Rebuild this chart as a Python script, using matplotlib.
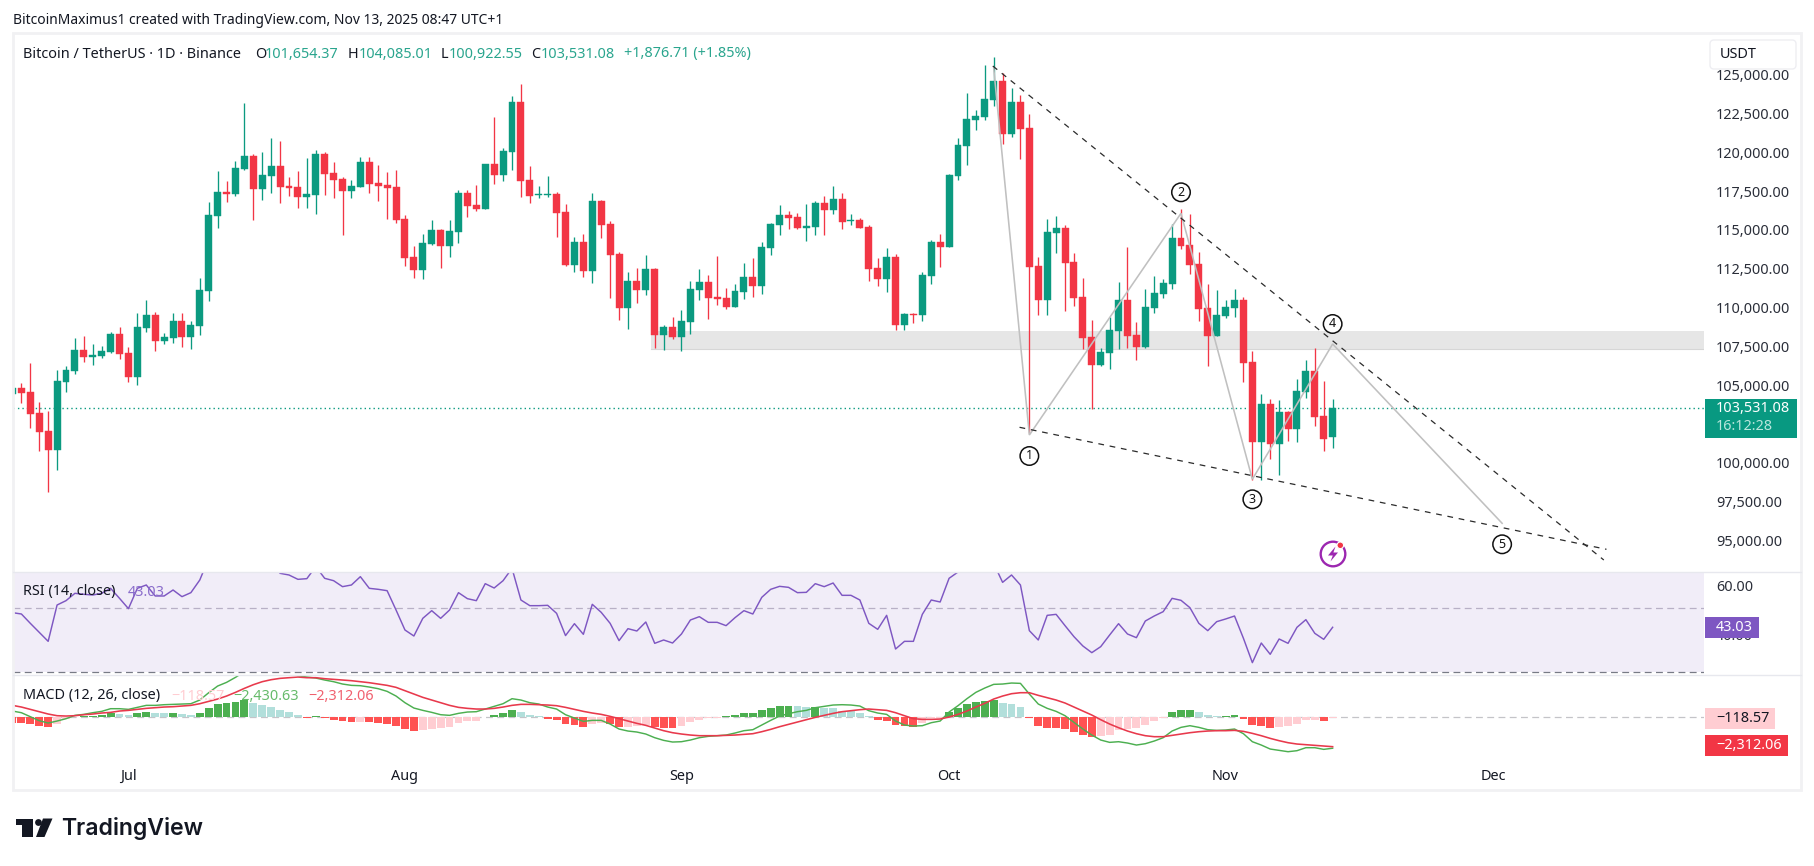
import numpy as np
import matplotlib
matplotlib.use("Agg")
import matplotlib.pyplot as plt
from matplotlib.patches import Rectangle, Circle, Polygon, FancyBboxPatch
from matplotlib.ticker import FuncFormatter

# Daily BTC/USDT candles, first entry is 18 Jun 2025, last is 13 Nov 2025
opens = [104427, 104792, 104534, 103181, 102021, 100840, 105222, 105930, 107262, 106832,
         106854, 107133, 108293, 107069, 105544, 108701, 109517, 107842, 108035, 109130,
         108099, 108830, 111085, 115917, 117442, 117335, 118924, 119762, 117657, 118495,
         119117, 117829, 117764, 117141, 117270, 119891, 118666, 118280, 117528, 117786,
         119375, 118022, 117893, 117764, 115703, 113254, 112438, 114092, 114994, 113984,
         114886, 117378, 116605, 116368, 119246, 118559, 120041, 123241, 118215, 117227,
         117227, 117313, 116153, 112760, 114221, 112374, 116862, 115380, 113447, 109990,
         111708, 111149, 112481, 108250, 108744, 108121, 109088, 111149, 111643, 110677,
         110612, 110054, 111020, 111965, 111407, 113855, 115337, 115960, 115831, 115144,
         115208, 116733, 116304, 116991, 115574, 115638, 115187, 112545, 111858, 113254,
         108894, 109603, 109539, 112051, 114221, 113920, 118495, 120428, 122082, 122275,
         123370, 124594, 121179, 123241, 121566, 112674, 110484, 114800, 115123, 112932,
         110677, 108100, 106296, 107069, 108486, 110484, 108228, 107455, 109968, 110870,
         111514, 114478, 114027, 112803, 109968, 108164, 109453, 109968, 110484, 106489,
         101334, 103783, 101205, 103267, 102172, 104556, 105909, 103010, 101654.37]
closes = [104792, 104491, 103160, 102000, 100840, 105264, 105973, 107262, 106832, 106940,
          107197, 108293, 107026, 105544, 108744, 109517, 107863, 108099, 109130, 108099,
          108873, 111128, 115960, 117442, 117335, 118989, 119762, 117657, 118538, 119117,
          117786, 117721, 117141, 117313, 119891, 118623, 118237, 117528, 117829, 119375,
          117979, 117850, 117721, 115660, 113211, 112438, 114156, 114994, 113984, 114929,
          117378, 116562, 116368, 119246, 118559, 120084, 123241, 118172, 117206, 117292,
          117292, 116111, 112739, 114221, 112374, 116862, 115337, 113404, 109990, 111708,
          111149, 112481, 108250, 108744, 108121, 109131, 111192, 111643, 110634, 110569,
          110054, 111063, 111965, 111407, 113898, 115380, 115960, 115788, 115144, 115251,
          116733, 116304, 116991, 115531, 115638, 115144, 112502, 111858, 113254, 108894,
          109582, 109539, 112094, 114221, 113920, 118537, 120471, 122146, 122339, 123435,
          124594, 121179, 123241, 121502, 112610, 110484, 114865, 115123, 112867, 110612,
          108035, 106296, 107133, 108551, 110484, 108164, 107455, 110033, 110935, 111579,
          114478, 113963, 112739, 109904, 108164, 109517, 110033, 110484, 106424, 101334,
          103783, 101205, 103267, 102172, 104620, 105909, 102945, 101528, 103531.08]
highs = [104800, 105114, 106403, 103890, 103332, 105973, 106209, 108014, 108164, 107627,
         107520, 108422, 108744, 107455, 109646, 110483, 109689, 108336, 109646, 109646,
         109109, 111901, 116776, 118795, 118151, 119440, 123155, 119869, 120019, 120921,
         120728, 118409, 118795, 119633, 120148, 120019, 119375, 118409, 118215, 119697,
         119697, 119182, 118731, 118860, 115939, 113963, 114736, 115638, 115058, 115638,
         117571, 117571, 117893, 119246, 122274, 120256, 123627, 124401, 119117, 117829,
         118473, 117442, 116669, 114543, 114736, 117378, 116927, 115574, 113576, 112288,
         112545, 113383, 112545, 108873, 109388, 109839, 111708, 112481, 112094, 113319,
         111257, 111514, 112868, 113190, 114221, 115445, 116605, 116218, 116089, 116669,
         116862, 117184, 117829, 117378, 116025, 115767, 115316, 113190, 113834, 113447,
         109646, 109646, 112288, 114349, 114736, 118602, 120922, 123821, 122726, 125625,
         126141, 125088, 124143, 123692, 122468, 113254, 115703, 115896, 115316, 113512,
         111901, 109195, 107391, 109388, 111643, 113898, 109066, 111192, 112030, 111837,
         115380, 116347, 116025, 113576, 111514, 111128, 110484, 111192, 110677, 107198,
         104427, 104105, 104040, 103332, 105393, 106618, 107391, 105265, 104085.01]
lows = [104400, 103868, 102258, 100776, 98134, 99530, 104577, 105737, 106510, 106317,
        106768, 107090, 106682, 105222, 105028, 108443, 107219, 107670, 107734, 107477,
        107348, 108228, 110441, 115144, 116819, 117206, 118860, 115638, 116927, 117378,
        116733, 117206, 116433, 116433, 116046, 117270, 117077, 114693, 117077, 117743,
        117399, 116884, 115724, 115466, 112696, 111923, 111858, 114049, 112567, 113276,
        114178, 115853, 116239, 116368, 117958, 118172, 118881, 117141, 116755, 117077,
        117141, 114564, 112674, 112309, 111987, 111600, 114500, 110634, 109216, 108637,
        110312, 110827, 107412, 107283, 107992, 107219, 108314, 110505, 109281, 110183,
        109925, 110033, 110569, 110698, 110892, 113404, 114693, 115080, 115080, 114306,
        114693, 114693, 116046, 115080, 115337, 115122, 111729, 111407, 111020, 108572,
        108572, 109023, 109152, 111536, 112631, 113898, 118216, 119182, 121437, 122082,
        122984, 120535, 120986, 119569, 101893, 109517, 109517, 113512, 109775, 110097,
        107326, 103461, 106231, 106038, 107326, 107391, 106618, 107391, 109646, 110612,
        111192, 113770, 112159, 109130, 106231, 108143, 109324, 109388, 105200, 98886,
        98886, 100239, 99208, 101399, 101334, 104169, 102365, 100754, 100922.55]

rsi = [49.0, 48.45, 44.64, 40.97, 37.29, 52.12, 53.89, 56.89, 56.48, 56.2,
       56.89, 58.93, 54.84, 50.63, 58.93, 60.29, 55.8, 55.8, 58.25, 55.53,
       57.16, 62.33, 71.2, 74.6, 73.9, 75.2, 75.2, 72.5, 71.8, 70.5,
       65.05, 64.37, 62.6, 62.87, 67.8, 63.01, 62.05, 59.61, 60.29, 63.69,
       58.93, 58.52, 57.97, 50.08, 41.92, 39.47, 46.68, 49.81, 46.68, 50.08,
       57.16, 54.71, 53.89, 60.83, 59.06, 62.05, 67.09, 54.16, 51.85, 51.85,
       51.99, 48.72, 39.63, 44.5, 40.15, 52.4, 49.13, 44.64, 37.57, 42.46,
       41.51, 45.18, 36.48, 37.84, 36.61, 40.29, 46.0, 47.36, 45.05, 45.05,
       43.69, 46.95, 49.81, 48.45, 55.25, 58.52, 59.74, 59.33, 57.16, 57.29,
       60.83, 59.61, 61.1, 56.07, 56.07, 54.16, 44.64, 42.19, 47.9, 34.16,
       37.29, 37.29, 48.31, 54.16, 53.35, 63.01, 65.59, 68.45, 69.13, 70.49,
       69.13, 61.37, 64.37, 60.29, 41.65, 37.84, 47.9, 48.31, 43.69, 39.2,
       35.39, 32.67, 35.12, 39.88, 44.5, 40.29, 38.79, 45.59, 47.63, 49.4,
       54.84, 54.03, 51.03, 44.64, 41.65, 45.32, 46.41, 47.63, 38.52, 28.59,
       36.61, 32.0, 38.25, 36.48, 43.01, 46.14, 40.56, 38.11, 43.03]

macd_line = [437, 308, 0, -308, -488, -334, -154, 103, 180, 308,
             411, 617, 617, 565, 720, 874, 874, 925, 951, 977,
             1002, 1285, 1850, 2364, 2647, 3033, 3470, 3495, 3624, 3598,
             3470, 3367, 3161, 3058, 2981, 2827, 2699, 2519, 2416, 2390,
             2287, 2159, 1953, 1593, 1079, 668, 488, 334, 154, 103,
             257, 360, 386, 591, 797, 1002, 1388, 1285, 1079, 977,
             745, 591, 154, -103, -360, -283, -283, -565, -951, -1105,
             -1182, -1336, -1619, -1825, -1953, -1928, -1799, -1619, -1516, -1465,
             -1414, -1259, -1079, -1002, -643, -283, 51, 231, 386, 488,
             694, 797, 900, 925, 900, 822, 463, 283, 180, -334,
             -643, -720, -694, -463, -334, 360, 848, 1388, 1876, 2210,
             2493, 2519, 2596, 2570, 1748, 977, 643, 411, 77, -437,
             -951, -1414, -1799, -1979, -1928, -2030, -2185, -2082, -1876, -1619,
             -1105, -822, -694, -822, -1002, -1054, -1028, -951, -1311, -1928,
             -2185, -2493, -2596, -2699, -2621, -2390, -2390, -2519, -2430.63]
signal_line = [874, 745, 565, 386, 206, 77, 51, 77, 154, 206,
               283, 334, 437, 488, 565, 643, 694, 745, 771, 822,
               874, 1002, 1182, 1362, 1593, 1876, 2185, 2467, 2699, 2853,
               2956, 3007, 3058, 3007, 3007, 2930, 2878, 2827, 2776, 2699,
               2621, 2519, 2416, 2262, 2005, 1748, 1491, 1285, 1079, 874,
               720, 643, 591, 591, 643, 745, 874, 951, 951, 925,
               900, 848, 720, 565, 411, 283, 180, 26, -154, -334,
               -514, -668, -874, -1079, -1234, -1336, -1414, -1465, -1465, -1465,
               -1439, -1414, -1362, -1311, -1157, -977, -771, -591, -411, -231,
               -51, 103, 257, 386, 463, 540, 591, 540, 488, 308,
               77, -154, -206, -206, -180, -26, 180, 437, 745, 1028,
               1362, 1593, 1773, 1850, 1850, 1645, 1465, 1285, 1054, 745,
               437, 129, -231, -565, -848, -1105, -1311, -1465, -1542, -1542,
               -1439, -1336, -1234, -1157, -1105, -1079, -1079, -1054, -1131, -1285,
               -1465, -1671, -1850, -2005, -2107, -2159, -2210, -2262, -2312.06]
macd_hist = [-463, -463, -591, -694, -797, -565, -206, -51, 26, 51,
             129, 308, 206, 129, 308, 386, 308, 283, 308, 180,
             167, 283, 694, 1002, 1054, 1131, 1285, 1028, 925, 745,
             514, 360, 103, -77, 26, -77, -257, -334, -437, -398,
             -437, -488, -565, -720, -925, -1079, -1028, -951, -874, -771,
             -463, -360, -334, -26, 129, 283, 514, 360, 129, 51,
             -180, -257, -565, -668, -771, -565, -463, -591, -797, -771,
             -745, -643, -822, -848, -861, -720, -411, -257, -129, -77,
             26, 129, 283, 296, 514, 668, 822, 835, 797, 720,
             745, 694, 643, 463, 411, 283, 26, -257, -334, -643,
             -720, -771, -514, -129, -77, 360, 668, 977, 1131, 1208,
             1285, 1054, 977, 771, -103, -694, -848, -874, -951, -1182,
             -1414, -1542, -1516, -1388, -1028, -925, -848, -643, -308, -103,
             334, 488, 501, 334, 103, 26, 51, 103, -180, -643,
             -720, -848, -771, -745, -565, -257, -231, -334, -118.57]

month_labels = ["Jul", "Aug", "Sep", "Oct", "Nov", "Dec"]
month_starts = [12, 43, 74, 104, 135, 165]      # days since 19 Jun 2025
price_ticks = list(range(95000, 127500, 2500))
rsi_ticks = [40, 60]
rsi_band = [24.65, 50.76]

# Elliott-style wave drawn on the price pane: (day, price)
wave_days = [109, 113, 130, 138, 147, 166]
wave_prices = [125432, 101786, 116070, 98931, 107649, 96097]
wave_names = ["1", "2", "3", "4", "5"]
upper_trend_days = [108.9, 177.4]
upper_trend_prices = [125560, 93732]
lower_trend_days = [111.9, 177.7]
lower_trend_prices = [102282, 94421]
zone_start_day = 71
zone_prices = [107307, 108486]
last_price = 103531.08

W, H = 1814, 866
GREEN, RED = "#0b9a80", "#f23645"
PURPLE = "#7e57c2"
FONT = "Noto Sans"
TICK = 10.4
plt.rcParams["font.family"] = [FONT, "DejaVu Sans"]

days = np.arange(-1, 148)
opens, closes, highs, lows = map(np.array, (opens, closes, highs, lows))

fig = plt.figure(figsize=(W / 100, H / 100), dpi=100, facecolor="white")


def pane(y0, y1, x0=13, x1=1704):
    ax = fig.add_axes([x0 / W, 1 - y1 / H, (x1 - x0) / W, (y1 - y0) / H])
    ax.set_xlim((13 - 21.4) / 8.92, (1704 - 21.4) / 8.92)
    for s in ax.spines.values():
        s.set_visible(False)
    ax.tick_params(length=0, labelsize=TICK, labelcolor="#2a2e39", pad=8.5)
    ax.yaxis.tick_right()
    ax.set_xticks([])
    ax.patch.set_alpha(0)
    return ax


# ---- price pane ----
ax_p = pane(33, 571.7)
ax_p.set_ylim(122500 - (571.7 - 113.5) * 64.43, 122500 + (113.5 - 33) * 64.43)
ax_p.set_yticks(price_ticks)
ax_p.yaxis.set_major_formatter(FuncFormatter(lambda v, _: f"{v:,.2f}"))

ax_p.add_patch(Rectangle((zone_start_day - 0.45, zone_prices[0]), 200, zone_prices[1] - zone_prices[0],
                         fc="#e6e6e6", ec="none", zorder=1))
ax_p.plot([zone_start_day - 0.45, 200], [zone_prices[0]] * 2, color="#d6d6d6", lw=0.8, zorder=1)
ax_p.axhline(last_price, color=GREEN, lw=1, ls=(0, (1, 2.2)), zorder=1.5)

colors = np.where(closes >= opens, GREEN, RED)
ax_p.vlines(days, lows, highs, colors=colors, lw=0.95, zorder=2)
ax_p.bar(days, np.abs(closes - opens), bottom=np.minimum(opens, closes), width=0.78,
         color=colors, edgecolor=colors, linewidth=0.3, zorder=2.5)

ax_p.plot(wave_days, wave_prices, color="#c0c0c0", lw=1.15, zorder=3, solid_joinstyle="miter")
for d, p in ((upper_trend_days, upper_trend_prices), (lower_trend_days, lower_trend_prices)):
    ax_p.plot(d, p, color="#2b2b2b", lw=0.9, ls=(0, (4.6, 4.6)), zorder=3.5)

wave_offsets = [(0, -21), (0, 21), (0, -20), (0, 20), (0, -21)]
for name, d, p, off in zip(wave_names, wave_days[1:], wave_prices[1:], wave_offsets):
    ax_p.annotate(name, (d, p), xytext=(off[0] * 0.72, off[1] * 0.72), textcoords="offset points",
                  ha="center", va="center", fontsize=9, fontweight="bold", color="#111111", zorder=4,
                  bbox=dict(boxstyle="circle,pad=0.22", fc="white", ec="#111111", lw=1.1))

# ---- RSI pane ----
ax_r = pane(572, 675)
ax_r.set_ylim(60 - (675 - 585.7) / 2.45, 60 + (585.7 - 572) / 2.45)
ax_r.set_yticks(rsi_ticks)
ax_r.yaxis.set_major_formatter(FuncFormatter(lambda v, _: f"{v:.2f}"))
ax_r.axhspan(rsi_band[0], 70, color=PURPLE, alpha=0.105, lw=0, zorder=1)
ax_r.axhline(rsi_band[1], color="#b8b0c6", lw=0.9, ls=(0, (5.5, 3.5)), zorder=1.5)
ax_r.axhline(rsi_band[0], color="#787b86", lw=0.9, ls=(0, (5.5, 3.5)), zorder=1.5)
ax_r.plot(days, rsi, color=PURPLE, lw=1.05, zorder=2)

# ---- MACD pane ----
ax_m = pane(675, 760)
ax_m.set_ylim((716.7 - 760) * 77.1, (716.7 - 675) * 77.1)
ax_m.set_yticks([])
ax_m.axhline(0, color="#c4c4c8", lw=0.9, ls=(0, (5.5, 3.5)), zorder=1)

hist_colors = []
for k, v in enumerate(macd_hist):
    prev = macd_hist[k - 1] if k else v
    if v >= 0:
        hist_colors.append("#4caf50" if v >= prev else "#b2dfdb")
    else:
        hist_colors.append("#ff5252" if v <= prev else "#ffcdd2")
ax_m.bar(days, macd_hist, width=0.88, color=hist_colors, lw=0, zorder=1.5)
ax_m.plot(days, macd_line, color="#4caf50", lw=1.05, zorder=2)
ax_m.plot(days, signal_line, color="#e8394c", lw=1.15, zorder=2.5)

ax_m.xaxis.set_ticks_position("bottom")
ax_m.set_xticks(month_starts)
ax_m.set_xticklabels(month_labels, fontsize=10.4, fontweight="medium", color="#131722")
ax_m.tick_params(axis="x", pad=6.5)

# ---- chrome, legends and price tags, positioned in pixels ----
ov = fig.add_axes([0, 0, 1, 1], zorder=10)
ov.set_xlim(0, W)
ov.set_ylim(H, 0)
ov.axis("off")


def t(x, y, s, color="#131722", size=10.4, **kw):
    kw.setdefault("va", "center")
    return ov.text(x, y, s, color=color, fontsize=size, **kw)


def box(x0, y0, x1, y1, fc, **kw):
    ov.add_patch(Rectangle((x0, y0), x1 - x0, y1 - y0, fc=fc, ec="none", **kw))


# outer frame and pane separators
ov.add_patch(Rectangle((13, 33), 1788, 757, fc="none", ec="#f1f1f3", lw=2))
ov.plot([13, 1801], [572, 572], color="#e7e8ee", lw=1)
ov.plot([13, 1801], [675, 675], color="#e7e8ee", lw=1)

t(13, 20, "BitcoinMaximus1 created with TradingView.com, Nov 13, 2025 08:47 UTC+1", size=10.0)

VAL = "#2aa58e"
t(23, 54, "Bitcoin / TetherUS · 1D · Binance", size=10.4)
t(255, 54, "O", size=10.4)
t(265, 54, "101,654.37", VAL)
t(348, 54, "H", size=10.4)
t(358.5, 54, "104,085.01", VAL)
t(441, 54, "L", size=10.4)
t(449, 54, "100,922.55", VAL)
t(531.5, 54, "C", size=10.4)
t(541, 54, "103,531.08", VAL)
t(623.5, 54, "+1,876.71 (+1.85%)", VAL)

t(23, 592, "RSI (14, close)")
t(127.5, 592, "43.03", "#8a6ccb")
t(23, 696, "MACD (12, 26, close)")
t(171.5, 696, "\u2212118.57", "#ffcdd2")
t(233, 696, "\u22122,430.63", "#66bb6a")
t(308, 696, "\u22122,312.06", "#f0606e")

# currency button covers the top price label
ov.add_patch(FancyBboxPatch((1710, 40), 86, 29, boxstyle="round,pad=0,rounding_size=4",
                            fc="white", ec="#eeeef2", lw=1))
t(1720, 54.5, "USDT")

box(1705, 399, 1797, 437.7, "#089981")
t(1716, 409, "103,531.08", "white", fontweight="medium")
t(1716, 427, "16:12:28", "#b9e6dc")
box(1705, 617, 1759, 637.7, PURPLE)
t(1716, 627.5, "43.03", "white")
box(1705, 708.3, 1775, 728.7, "#ffcdd2")
t(1716, 718.5, "\u2212118.57", "#131722")
box(1705, 735, 1788, 755.7, "#f23645")
t(1716, 745.3, "\u22122,312.06", "white")

# session-alert badge
ov.add_patch(Circle((1333, 554), 12.3, fc="white", ec="#9c27b0", lw=1.7))
ov.add_patch(Polygon([(1335.5, 546.5), (1328, 555.5), (1332.8, 555.5), (1330.5, 561.5),
                      (1338, 552.5), (1333.4, 552.5)], fc="#9c27b0", ec="none"))
ov.add_patch(Circle((1340.3, 545.3), 3.3, fc="#f23645", ec="white", lw=0.8))

# wordmark
LOGO = "#131722"
ov.add_patch(Polygon([(15.5, 818.5), (33, 818.5), (33, 837), (22, 837), (22, 825), (15.5, 825)], fc=LOGO, ec="none"))
ov.add_patch(Circle((38.5, 822.5), 3.4, fc=LOGO, ec="none"))
ov.add_patch(Polygon([(43, 818.5), (52.5, 818.5), (44.5, 837), (36, 837)], fc=LOGO, ec="none"))
t(61.5, 828, "TradingView", LOGO, size=16.6, fontweight="semibold", family="Inter")

fig.savefig("out.png", dpi=100, facecolor="white")
